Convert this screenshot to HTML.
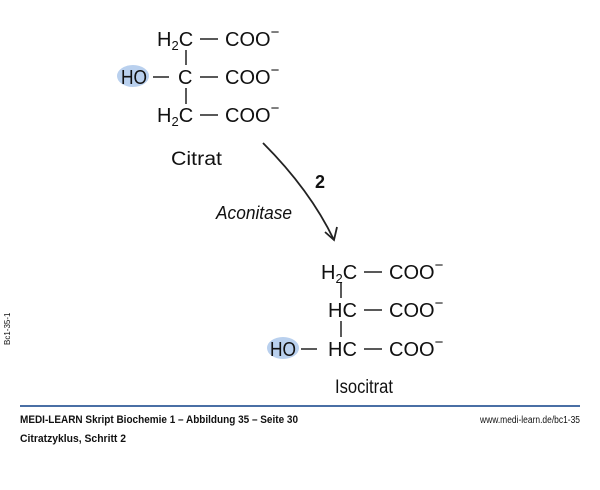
<!DOCTYPE html>
<html><head><meta charset="utf-8"><style>
html,body{margin:0;padding:0;background:#fff;width:600px;height:490px;overflow:hidden}
svg{display:block}
text{font-family:"Liberation Sans",sans-serif;fill:#111}
</style></head><body>
<svg width="600" height="490" viewBox="0 0 600 490">
<g stroke="#222" stroke-width="1.5">
<ellipse cx="133" cy="76" rx="16" ry="11" fill="#b9d0ee" stroke="none"/>
<ellipse cx="283" cy="348" rx="16" ry="11" fill="#b9d0ee" stroke="none"/>
<line x1="200" y1="39" x2="218" y2="39"/>
<line x1="153" y1="77" x2="169" y2="77"/>
<line x1="200" y1="77" x2="218" y2="77"/>
<line x1="200" y1="115" x2="218" y2="115"/>
<line x1="186" y1="50" x2="186" y2="65"/>
<line x1="186" y1="88" x2="186" y2="104"/>
<line x1="364" y1="272" x2="382" y2="272"/>
<line x1="364" y1="310" x2="382" y2="310"/>
<line x1="364" y1="349" x2="382" y2="349"/>
<line x1="301" y1="349" x2="317" y2="349"/>
<line x1="341" y1="283" x2="341" y2="298"/>
<line x1="341" y1="321" x2="341" y2="337"/>
<path d="M263 143 Q310 190 334 240" fill="none" stroke-width="1.8"/>
<path d="M325 232 L334 240 L337 227" fill="none" stroke-width="1.8"/>
</g>
<g font-size="20">
<text x="157" y="46">H<tspan font-size="13" dy="4">2</tspan><tspan dy="-4">C</tspan></text>
<text x="225" y="46">COO<tspan font-size="15" dy="-9">−</tspan></text>
<text x="121" y="84" textLength="26" lengthAdjust="spacingAndGlyphs">HO</text>
<text x="178" y="84">C</text>
<text x="225" y="84">COO<tspan font-size="15" dy="-9">−</tspan></text>
<text x="157" y="122">H<tspan font-size="13" dy="4">2</tspan><tspan dy="-4">C</tspan></text>
<text x="225" y="122">COO<tspan font-size="15" dy="-9">−</tspan></text>
<text x="321" y="279">H<tspan font-size="13" dy="4">2</tspan><tspan dy="-4">C</tspan></text>
<text x="389" y="279">COO<tspan font-size="15" dy="-9">−</tspan></text>
<text x="328" y="317">HC</text>
<text x="389" y="317">COO<tspan font-size="15" dy="-9">−</tspan></text>
<text x="270" y="356" textLength="26" lengthAdjust="spacingAndGlyphs">HO</text>
<text x="328" y="356">HC</text>
<text x="389" y="356">COO<tspan font-size="15" dy="-9">−</tspan></text>
</g>
<text x="171" y="165" font-size="19" textLength="51" lengthAdjust="spacingAndGlyphs">Citrat</text>
<text x="335" y="393" font-size="19" textLength="58" lengthAdjust="spacingAndGlyphs">Isocitrat</text>
<text x="315" y="188" font-size="18" font-weight="bold">2</text>
<text x="216" y="219" font-size="18" font-style="italic" textLength="76" lengthAdjust="spacingAndGlyphs">Aconitase</text>
<line x1="20" y1="406" x2="580" y2="406" stroke="#4a6fa5" stroke-width="2"/>
<text x="20" y="423" font-size="11" font-weight="bold" textLength="278" lengthAdjust="spacingAndGlyphs">MEDI-LEARN Skript Biochemie 1 – Abbildung 35 – Seite 30</text>
<text x="20" y="442" font-size="11" font-weight="bold" textLength="106" lengthAdjust="spacingAndGlyphs">Citratzyklus, Schritt 2</text>
<text x="580" y="423" font-size="10" text-anchor="end" fill="#333" textLength="100" lengthAdjust="spacingAndGlyphs">www.medi-learn.de/bc1-35</text>
<text transform="translate(10,345) rotate(-90)" font-size="8" fill="#333">Bc1-35-1</text>
</svg>
</body></html>
